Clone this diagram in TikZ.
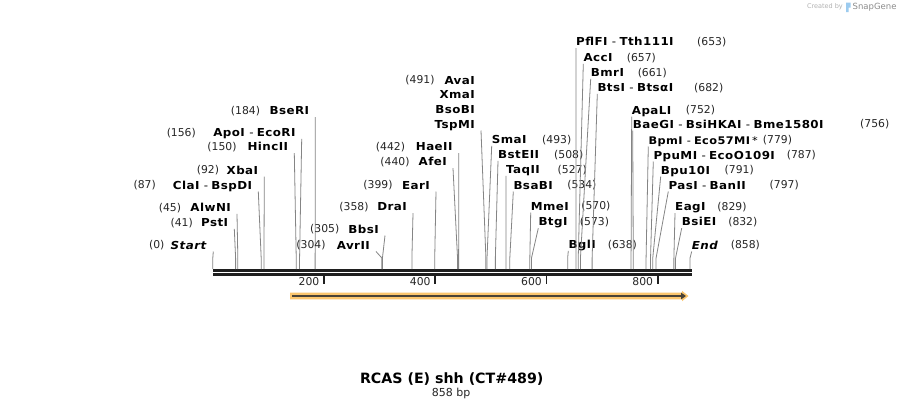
\documentclass[tikz,border=0pt]{standalone}
\usepackage{fontspec}
\setmainfont{DejaVu Sans}
\newfontfamily\enzfont{DejaVu Sans}[FakeStretch=1.08, LetterSpace=4,
  BoldFont=DejaVu Sans Bold, ItalicFont=DejaVu Sans Oblique,
  BoldItalicFont=DejaVu Sans Bold Oblique]
\usepackage{tikz}
\usetikzlibrary{arrows.meta}

\definecolor{featorange}{HTML}{FBC66E}
\definecolor{featdark}{HTML}{4A4336}
\definecolor{snapblue}{HTML}{9CCBEF}
\newcommand{\dsh}{\hspace{0.4em}{\mdseries-}\hspace{0.3em}}

\tikzset{
  enz/.style={font=\fontsize{11}{11}\selectfont\enzfont\bfseries, inner sep=0pt, text height=8pt, text depth=0pt},
  num/.style={font=\fontsize{10.8}{10.8}\selectfont, inner sep=0pt, text height=7.8pt, text depth=0pt, text=black!85},
  cut/.style={draw=black!48, line width=0.8pt},
  seq/.style={draw=black!88, line width=2.7pt},
  tickmark/.style={draw=black!88, line width=1.8pt},
}

\begin{document}
\begin{tikzpicture}[x=1pt, y=-1pt]
  \useasboundingbox[fill=white] (0,0) rectangle (905,408);

  % sequence
  \coordinate (seqL) at (213,270.3);
  \coordinate (seqR) at (691.5,270.3);
  \draw[seq] (seqL) -- (seqR);
  \draw[seq] ([yshift=-4pt]seqL) -- ([yshift=-4pt]seqR);
  \foreach \t in {200,400,600,800} {
    \coordinate (t\t) at ({212.8+0.5562*\t},275.5);
    \draw[tickmark] (t\t) -- ++(0,8);
    \node[num, anchor=east] (l\t) at ({212.8+0.5562*\t-4.5},282) {\t};
  }

  % feature
  \coordinate (fStart) at (292,296);
  \coordinate (fEnd) at (686,296);
  \fill[featorange] (290,292.7) -- (682,292.7) -- (682,290.8) -- (688.5,296)
    -- (682,301.2) -- (682,299.3) -- (290,299.3) -- cycle;
  \draw[featdark, line width=1.8pt, -{Triangle[length=5pt,width=6.5pt]}] (fStart) -- (fEnd);

  % left-hand labels
  \foreach \tag/\txt/\num/\rx/\ny/\nx/\bp in {
      start/\textit{Start}/0/207.3/245/156.8/0,
      pst/PstI/41/228.3/222.3/181.7/41,
      alw/AlwNI/45/231/207.3/170/45,
      cla/{ClaI\dsh BspDI}/87/252.3/185/144.7/87,
      xba/XbaI/92/258.3/170/208/92,
      hinc/HincII/150/288.3/146.7/222/150,
      apo/{ApoI\dsh EcoRI}/156/295.7/132.3/181.3/156,
      bse/BseRI/184/309.3/110.7/245.5/184,
      avr/AvrII/304/370/245/311/304,
      bbs/BbsI/305/379/229/324.7/305,
      dra/DraI/358/407/206.7/354/358,
      ear/EarI/399/430/185/378/399,
      afe/AfeI/440/447/161.7/395/440,
      hae/HaeII/442/452.7/146.7/390.5/442} {
    \node[enz, anchor=east] (n\tag) at (\rx,\ny) {\txt};
    \node[num] (k\tag) at (\nx,\ny) {(\num)};
    \coordinate (s\tag) at ({212.8+0.5562*\bp},269);
    \draw[cut] ([shift={(6pt,-6.5pt)}]n\tag.east) -- ([yshift=11pt]s\tag) -- (s\tag);
  }

  % stacked labels at 491
  \node[enz, anchor=east] (nava) at (475,80) {AvaI};
  \node[enz, anchor=east] (nxma) at (475,94.3) {XmaI};
  \node[enz, anchor=east] (nbso) at (475,109.3) {BsoBI};
  \node[enz, anchor=east] (ntsp) at (475,124) {TspMI};
  \node[num] (kava) at (420,80) {(491)};
  \coordinate (stsp) at ({212.8+0.5562*491},269);
  \draw[cut] ([shift={(6pt,-6.5pt)}]ntsp.east) -- ([yshift=11pt]stsp) -- (stsp);

  % right-hand labels
  \foreach \tag/\txt/\num/\lx/\ny/\nx/\bp in {
      sma/SmaI/493/491.7/139.3/556.7/493,
      bste/BstEII/508/498/154.3/568.7/508,
      taq/TaqII/527/506/169.3/572.2/527,
      bsab/BsaBI/534/513.3/185/581.9/534,
      mme/MmeI/570/530.7/206/595.9/570,
      btg/BtgI/573/538.3/221.7/594.5/573,
      bgl/BglI/638/568.3/244.3/622.4/638,
      pfl/{PflFI\dsh Tth111I}/653/576/41.7/711.7/653,
      acc/AccI/657/583.3/57.3/641.4/657,
      bmr/BmrI/661/590.7/72.3/652.3/661,
      bts/{BtsI\dsh BtsαI}/682/597.3/87.3/708.7/682,
      apa/ApaLI/752/631.7/110/700.5/752,
      bae/{BaeGI\dsh BsiHKAI\dsh Bme1580I}/756/632.7/124/874.7/756,
      bpm/{\fontsize{10.5}{10.5}\selectfont BpmI\dsh Eco57MI\hspace{0.2em}{\mdseries *}}/779/648.3/140/777.5/779,
      ppu/{PpuMI\dsh EcoO109I}/787/653.3/155/801.4/787,
      bpu/Bpu10I/791/660.7/170/739.2/791,
      pas/{PasI\dsh BanII}/797/668.3/185/784.2/797,
      eag/EagI/829/675/206.7/732/829,
      bsie/BsiEI/832/681.7/221.7/742.8/832,
      end/\textit{End}/858/691.7/245/745.4/858} {
    \node[enz, anchor=west] (n\tag) at (\lx,\ny) {\txt};
    \node[num] (k\tag) at (\nx,\ny) {(\num)};
    \coordinate (s\tag) at ({212.8+0.5562*\bp},269);
    \draw[cut] ([yshift=-6.5pt]n\tag.west) -- ([yshift=11pt]s\tag) -- (s\tag);
  }

  % title
  \node[font=\fontsize{14.2}{14.2}\selectfont\bfseries, inner sep=0pt, text height=10.4pt, text depth=0pt] (title) at (451.7,378.3) {RCAS (E) shh (CT\#489)};
  \node[num, font=\fontsize{11}{11}\selectfont, text height=8pt] (size) at (451.2,392.3) {858 bp};

  % logo
  \node[font=\fontsize{6.5}{6.5}\selectfont, text=black!30, inner sep=0pt, anchor=east] (created) at (843,7) {Created by};
  \fill[snapblue] (846,2.5) rectangle (848.6,12) (846,2.5) rectangle (850.5,7.5);
  \node[font=\fontsize{8.5}{8.5}\selectfont, text=black!45, inner sep=0pt, anchor=west] (snap) at (852.5,7) {SnapGene};
\end{tikzpicture}
\end{document}
